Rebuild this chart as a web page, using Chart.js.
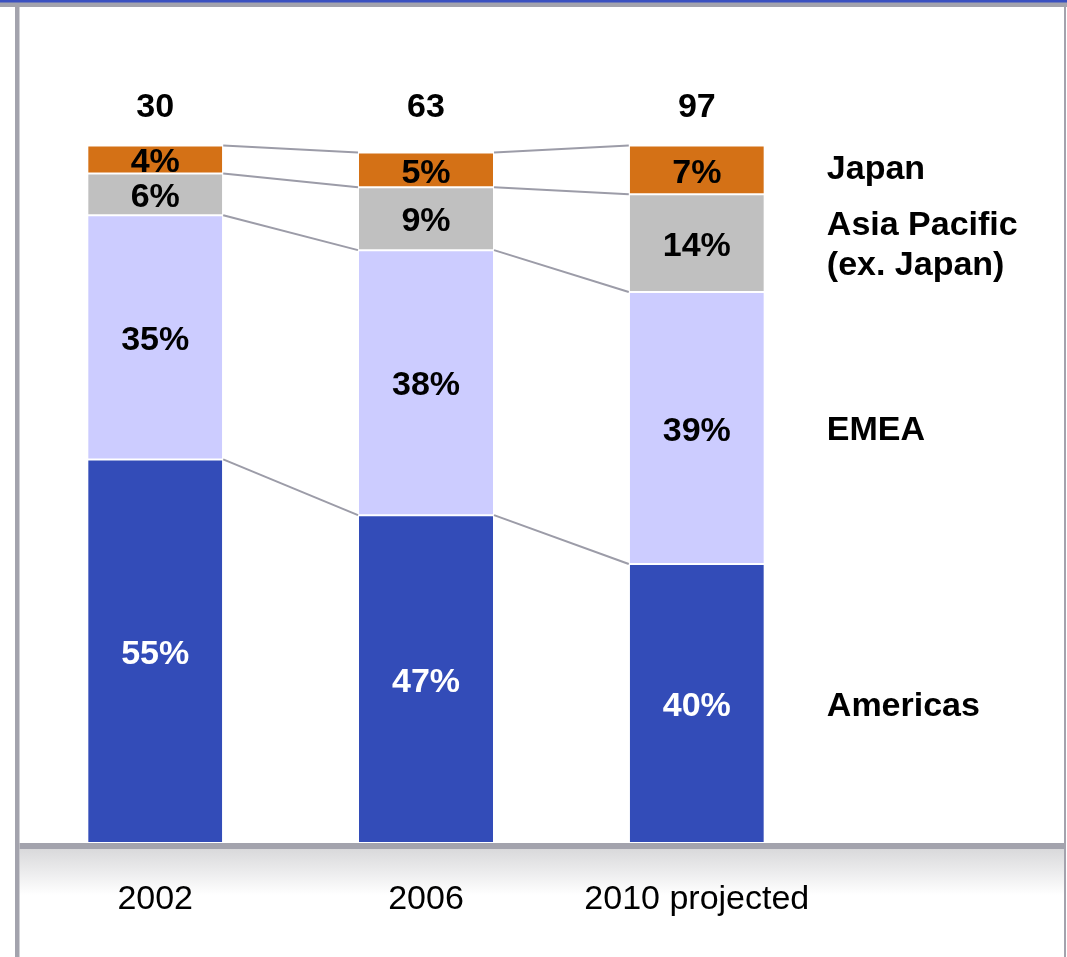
<!DOCTYPE html>
<html>
<head>
<meta charset="utf-8">
<style>
  html, body { margin: 0; padding: 0; background: #ffffff; }
  #wrap { position: relative; width: 1067px; height: 957px; }
</style>
<script src="https://cdn.jsdelivr.net/npm/chart.js@4.4.1/dist/chart.umd.min.js"></script>
</head>
<body>
<div id="wrap"><canvas id="chart" width="1067" height="957"></canvas></div>
<script>
// Revenue mix by region (% of total) and the total above each bar
const years = ['2002', '2006', '2010 projected'];
const totals = ['30', '63', '97'];
const regions = ['Americas', 'EMEA', 'Asia Pacific', 'Japan'];
const regionLabels = [['Americas'], ['EMEA'], ['Asia Pacific', '(ex. Japan)'], ['Japan']];
const americas = [55, 47, 40];
const emea = [35, 38, 39];
const asiaPacific = [6, 9, 14];
const japan = [4, 5, 7];

const COLORS = ['#334cb8', '#ccccff', '#c0c0c0', '#d47116'];
const LABEL_COLORS = ['#ffffff', '#000000', '#000000', '#000000'];
const FONT_PX = 34;
const FONT_BOLD = 'bold ' + FONT_PX + 'px "Liberation Sans", Arial, sans-serif';
const FONT_REG = FONT_PX + 'px "Liberation Sans", Arial, sans-serif';
const CAP = 0.358 * FONT_PX; // half cap-height, for centring text on a point

// Slide-style frame: top rule, side rules and the shaded category band
const framePlugin = {
  id: 'frame',
  beforeDraw(chart) {
    const ctx = chart.ctx;
    const area = chart.chartArea;
    const W = chart.width, H = chart.height;
    ctx.save();
    // shaded band under the plot
    const g = ctx.createLinearGradient(0, area.bottom + 6, 0, area.bottom + 52);
    g.addColorStop(0, '#d9d9db');
    g.addColorStop(1, '#ffffff');
    ctx.fillStyle = g;
    ctx.fillRect(19.5, area.bottom + 6, 1044.5, 50);
    // top rules
    ctx.fillStyle = '#a3a3ad';
    ctx.fillRect(0, 2, W, 5);
    ctx.fillStyle = '#3a50c0';
    ctx.fillRect(0, 0, W, 2.5);
    // left and right rules
    ctx.fillStyle = '#a3a3ad';
    ctx.fillRect(15, 7, 4.5, H - 7);
    ctx.fillRect(1064, 7, 2, H - 7);
    ctx.restore();
  },
  afterDraw(chart) {
    const ctx = chart.ctx;
    const area = chart.chartArea;
    ctx.save();
    ctx.fillStyle = '#a3a3ad';
    ctx.fillRect(19.5, area.bottom, 1044.5, 6);
    // category labels
    const xs = chart.scales.x;
    ctx.fillStyle = '#000000';
    ctx.font = FONT_REG;
    ctx.textAlign = 'center';
    ctx.textBaseline = 'alphabetic';
    years.forEach((y, i) => {
      ctx.fillText(y, xs.getPixelForValue(i), area.bottom + 66);
    });
    ctx.restore();
  }
};

// Grey connectors joining matching segment boundaries of neighbouring bars
const connectorPlugin = {
  id: 'connectors',
  afterDatasetsDraw(chart) {
    const ctx = chart.ctx;
    ctx.save();
    ctx.strokeStyle = '#9c9ca8';
    ctx.lineWidth = 2;
    chart.data.datasets.forEach((ds, d) => {
      const bars = chart.getDatasetMeta(d).data;
      for (let i = 0; i < bars.length - 1; i++) {
        const a = bars[i], b = bars[i + 1];
        ctx.beginPath();
        ctx.moveTo(a.x + a.width / 2 + 1, a.y);
        ctx.lineTo(b.x - b.width / 2 - 1, b.y);
        ctx.stroke();
      }
    });
    ctx.restore();
  }
};

// Percent labels in the segments, totals above, region names at the right
const labelPlugin = {
  id: 'labels',
  afterDraw(chart) {
    const ctx = chart.ctx;
    ctx.save();
    ctx.font = FONT_BOLD;
    ctx.textAlign = 'center';
    ctx.textBaseline = 'alphabetic';
    chart.data.datasets.forEach((ds, d) => {
      const bars = chart.getDatasetMeta(d).data;
      ctx.fillStyle = LABEL_COLORS[d];
      bars.forEach((bar, i) => {
        const cy = (bar.y + bar.base) / 2;
        ctx.fillText(ds.data[i] + '%', bar.x, cy + CAP + 0.5);
      });
    });
    // totals
    ctx.fillStyle = '#000000';
    const top = chart.getDatasetMeta(chart.data.datasets.length - 1).data;
    const ys = chart.scales.y;
    totals.forEach((t, i) => {
      ctx.fillText(t, top[i].x, ys.getPixelForValue(100) - 29);
    });
    // region names beside the last bar
    ctx.textAlign = 'left';
    const nudge = [0, 0, 0, -3];
    chart.data.datasets.forEach((ds, d) => {
      const bars = chart.getDatasetMeta(d).data;
      const last = bars[bars.length - 1];
      const x = last.x + last.width / 2 + 63;
      const cy = (last.y + last.base) / 2 + nudge[d];
      const lines = regionLabels[d];
      const lh = 40;
      lines.forEach((ln, k) => {
        const y = cy - (lines.length - 1) * lh / 2 + k * lh;
        ctx.fillText(ln, x, y + CAP);
      });
    });
    ctx.restore();
  }
};

const seriesValues = [americas, emea, asiaPacific, japan];

new Chart(document.getElementById('chart'), {
  type: 'bar',
  data: {
    labels: years,
    datasets: regions.map((name, d) => ({
      label: name,
      data: seriesValues[d],
      backgroundColor: COLORS[d],
      borderColor: '#ffffff',
      borderWidth: { top: 1, bottom: 1, left: 0, right: 0 },
      borderSkipped: false,
      categoryPercentage: 1,
      barPercentage: 0.495
    }))
  },
  options: {
    responsive: false,
    animation: false,
    events: [],
    layout: { padding: { left: 19.8, right: 234.8, top: 145.5, bottom: 114 } },
    plugins: { legend: { display: false }, tooltip: { enabled: false }, title: { display: false } },
    scales: {
      x: { stacked: true, display: false },
      y: { stacked: true, display: false, min: 0, max: 100 }
    }
  },
  plugins: [framePlugin, connectorPlugin, labelPlugin]
});
</script>
</body>
</html>
